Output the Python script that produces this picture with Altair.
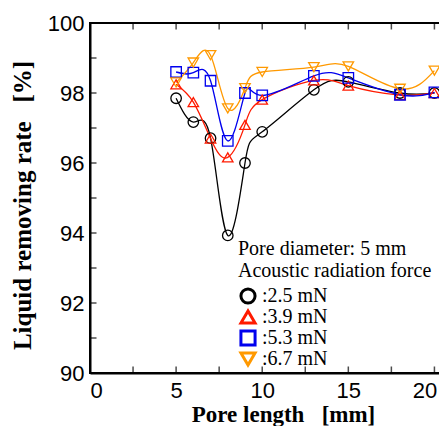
import altair as alt
import pandas as pd

pore_length = [5, 6, 7, 8, 9, 10, 13, 15, 18, 20]
rate_25 = [97.85, 97.17, 96.71, 93.93, 96.0, 96.89, 98.09, 98.32, 98.0, 98.0]
rate_39 = [98.25, 97.74, 96.70, 96.16, 97.09, 97.81, 98.36, 98.21, 97.94, 98.0]
rate_53 = [98.6, 98.58, 98.35, 96.63, 98.0, 97.93, 98.49, 98.43, 97.95, 98.02]
rate_67 = [98.3, 98.87, 99.08, 97.56, 98.14, 98.6, 98.74, 98.76, 98.12, 98.64]

series_names = ["2.5 mN", "3.9 mN", "5.3 mN", "6.7 mN"]
series_colors = ["#000000", "#ff1a00", "#0000ee", "#ff9900"]
series_shapes = ["circle", "triangle-up", "square", "triangle-down"]

x_ticks_all = [0, 2.5, 5, 7.5, 10, 12.5, 15, 17.5, 20]
x_labels = [0, 5, 10, 15, 20]
y_ticks_all = [90, 91, 92, 93, 94, 95, 96, 97, 98, 99, 100]
y_labels = [90, 92, 94, 96, 98, 100]

rows = []
for name, vals in zip(series_names, [rate_25, rate_39, rate_53, rate_67]):
    for xv, yv in zip(pore_length, vals):
        rows.append({"L": xv, "R": yv, "F": name})
df = pd.DataFrame(rows)
xt = pd.DataFrame({"t": x_ticks_all})
yt = pd.DataFrame({"t": y_ticks_all})

W, H = 357, 350
xscale = alt.Scale(domain=[0, 20.73], nice=False, zero=False)
yscale = alt.Scale(domain=[90, 100], nice=False, zero=False)
color_scale = alt.Scale(domain=series_names, range=series_colors)
shape_scale = alt.Scale(domain=series_names, range=series_shapes)

label_font = "Liberation Sans"
serif = "Liberation Serif"

legend = alt.Legend(
    orient="none", legendX=148, legendY=216,
    title=["Pore diameter: 5 mm", "Acoustic radiation force"],
    titleFont=serif, titleFontSize=20, titleFontWeight="normal",
    titleColor="black", titleLineHeight=22, titlePadding=5, titleLimit=400,
    labelFont=serif, labelFontSize=20, labelColor="black", labelLimit=300,
    labelExpr="':' + datum.label", labelOffset=4,
    symbolSize=200, symbolStrokeWidth=3, symbolFillColor="transparent",
    clipHeight=20, rowPadding=1, padding=0)

base = alt.Chart(df)

lines = base.mark_line(interpolate="natural", strokeWidth=1.3).encode(
    x=alt.X("L:Q", scale=xscale, axis=alt.Axis(
        values=x_labels, ticks=False, tickSize=0, grid=False, labelPadding=7,
        labelOffset={"condition": {"test": "datum.value == 20", "value": -10},
                     "value": 0},
        labelFont=label_font, labelFontSize=22, labelColor="black",
        domainColor="black", domainWidth=2,
        title="Pore length\u00a0\u00a0 [mm]", titleFont=serif, titleFontSize=23,
        titleFontWeight="bold", titleColor="black", titleX=193, titleY=41,
        titleBaseline="middle", titleAnchor="middle", titleAlign="center")),
    y=alt.Y("R:Q", scale=yscale, axis=alt.Axis(
        values=y_labels, ticks=False, tickSize=0, grid=False, labelPadding=6,
        labelFont=label_font, labelFontSize=22, labelColor="black",
        domainColor="black", domainWidth=2,
        title="Liquid removing rate\u00a0\u00a0 [%]", titleFont=serif,
        titleFontSize=25, titleFontWeight="bold", titleColor="black",
        titleX=-68, titleY=182, titleAngle=270, titleBaseline="middle",
        titleAlign="center")),
    color=alt.Color("F:N", scale=color_scale, legend=legend),
    detail="F:N",
)

points = base.mark_point(filled=False, strokeWidth=1.3, size=110, opacity=1).encode(
    x=alt.X("L:Q", scale=xscale, axis=None),
    y=alt.Y("R:Q", scale=yscale, axis=None),
    color=alt.Color("F:N", scale=color_scale, legend=legend),
    shape=alt.Shape("F:N", scale=shape_scale, legend=legend),
)

tick_kw = dict(color="black", size=13, thickness=1.5, clip=True)

bottom_ticks = alt.Chart(xt).mark_tick(orient="vertical", **tick_kw).encode(
    x=alt.X("t:Q", scale=xscale, axis=None), y=alt.value(H))
top_ticks = alt.Chart(xt).mark_tick(orient="vertical", **tick_kw).encode(
    x=alt.X("t:Q", scale=xscale, axis=None), y=alt.value(0))
left_ticks = alt.Chart(yt).mark_tick(orient="horizontal", **tick_kw).encode(
    y=alt.Y("t:Q", scale=yscale, axis=None), x=alt.value(0))
right_ticks = alt.Chart(yt).mark_tick(orient="horizontal", **tick_kw).encode(
    y=alt.Y("t:Q", scale=yscale, axis=None), x=alt.value(W))

chart = alt.layer(
    lines, points, bottom_ticks, top_ticks, left_ticks, right_ticks
).resolve_axis(
    x="independent", y="independent"
).properties(
    width=W, height=H,
    background="white",
    autosize=alt.AutoSizeParams(type="none"),
    padding={"left": 82, "top": 15, "right": -8, "bottom": 53},
).configure_view(stroke="black", strokeWidth=2)

chart.save("out.html", embed_options={"renderer": "svg", "actions": False})
